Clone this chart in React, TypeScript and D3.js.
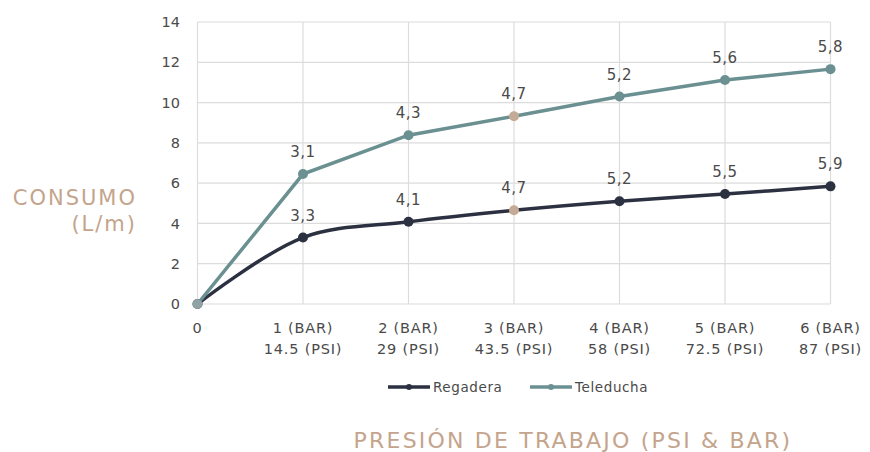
import React from "react";
import * as d3 from "d3";

const categories = ["0", "1", "2", "3", "4", "5", "6"];
const barLabels = ["", "1 (BAR)", "2 (BAR)", "3 (BAR)", "4 (BAR)", "5 (BAR)", "6 (BAR)"];
const psiLabels = ["", "14.5 (PSI)", "29 (PSI)", "43.5 (PSI)", "58 (PSI)", "72.5 (PSI)", "87 (PSI)"];
// plotted values (L/m)
const regadera = [0, 3.3, 4.08, 4.65, 5.1, 5.46, 5.84];
const teleducha = [0, 3.15, 4.3, 4.67, 5.2, 5.66, 5.82];
// data labels shown on the chart
const regaderaLabels = ["", "3,3", "4,1", "4,7", "5,2", "5,5", "5,9"];
const teleduchaLabels = ["", "3,1", "4,3", "4,7", "5,2", "5,6", "5,8"];
const yTicks = [0, 2, 4, 6, 8, 10, 12, 14];
const highlightIndex = 3;

const W = 870, H = 452;
const FONT = "'DejaVu Sans', Verdana, sans-serif";
const C_REG = "#2c3142";
const C_TEL = "#6b9092";
const C_HI = "#c5aa95";
const C_TITLE = "#c4a48c";
const C_TXT = "#4a4a4a";

export default function App() {
  const x = d3.scalePoint<string>().domain(categories).range([197.5, 830.5]);
  const y = d3.scaleLinear().domain([0, 14]).range([304, 22]);

  const regPts = regadera.map((v, i) => [x(categories[i])!, y(v)] as [number, number]);
  const telStack = teleducha.map((v, i) => v + regadera[i]);
  const telPts = telStack.map((v, i) => [x(categories[i])!, y(v)] as [number, number]);

  const regLine = d3.line().curve(d3.curveCatmullRom.alpha(0.5))(regPts)!;
  const telLine = d3.line()(telPts)!;

  return (
    <svg width={W} height={H} style={{ position: "absolute", left: 0, top: 0, background: "#fff" }}>
      {yTicks.map((t) => (
        <line key={"h" + t} x1={x("0")} x2={x("6")} y1={y(t)} y2={y(t)} stroke="#dcdcdc" strokeWidth={1.2} />
      ))}
      {categories.map((c) => (
        <line key={"v" + c} x1={x(c)} x2={x(c)} y1={y(14)} y2={y(0)} stroke="#dcdcdc" strokeWidth={1.2} />
      ))}
      {yTicks.map((t) => (
        <text key={"yt" + t} x={180} y={y(t)} dy="0.35em" textAnchor="end" fontFamily={FONT} fontSize={14.5} fill={C_TXT}>
          {t}
        </text>
      ))}
      {categories.map((c, i) => (
        <g key={"xt" + c} fontFamily={FONT} fontSize={14.5} fill={C_TXT} textAnchor="middle" letterSpacing={0.8}>
          {i === 0 ? (
            <text x={x(c)} y={333}>{c}</text>
          ) : (
            <>
              <text x={x(c)} y={333}>{barLabels[i]}</text>
              <text x={x(c)} y={354}>{psiLabels[i]}</text>
            </>
          )}
        </g>
      ))}
      <path d={regLine} fill="none" stroke={C_REG} strokeWidth={3.5} />
      <path d={telLine} fill="none" stroke={C_TEL} strokeWidth={3.5} />
      {regPts.map((p, i) => (
        <circle key={"rp" + i} cx={p[0]} cy={p[1]} r={5} fill={i === highlightIndex ? C_HI : C_REG} />
      ))}
      {telPts.map((p, i) => (
        <circle key={"tp" + i} cx={p[0]} cy={p[1]} r={5} fill={i === highlightIndex ? C_HI : i === 0 ? "#8fa3a5" : C_TEL} />
      ))}
      {regaderaLabels.map((s, i) =>
        s ? (
          <text key={"rl" + i} x={regPts[i][0]} y={regPts[i][1] - 17} textAnchor="middle" fontFamily={FONT} fontSize={15} fill={C_TXT} letterSpacing={0.5}>
            {s}
          </text>
        ) : null
      )}
      {teleduchaLabels.map((s, i) =>
        s ? (
          <text key={"tl" + i} x={telPts[i][0]} y={telPts[i][1] - 17} textAnchor="middle" fontFamily={FONT} fontSize={15} fill={C_TXT} letterSpacing={0.5}>
            {s}
          </text>
        ) : null
      )}
      <text x={137} y={205} textAnchor="end" fontFamily={FONT} fontSize={21} fill={C_TITLE} letterSpacing={2}>CONSUMO</text>
      <text x={137} y={231} textAnchor="end" fontFamily={FONT} fontSize={21} fill={C_TITLE} letterSpacing={2}>(L/m)</text>
      <g fontFamily={FONT} fontSize={13.5} fill={C_TXT}>
        <line x1={388} x2={430} y1={387} y2={387} stroke={C_REG} strokeWidth={3.5} />
        <circle cx={409} cy={387} r={3} fill={C_REG} />
        <text x={433} y={387} dy="0.35em" letterSpacing={0.6}>Regadera</text>
        <line x1={530} x2={572} y1={387} y2={387} stroke={C_TEL} strokeWidth={3.5} />
        <circle cx={551} cy={387} r={3} fill={C_TEL} />
        <text x={575} y={387} dy="0.35em" letterSpacing={0.6}>Teleducha</text>
      </g>
      <text x={573} y={448} textAnchor="middle" fontFamily={FONT} fontSize={22} fill={C_TITLE} letterSpacing={2.2}>
        PRESIÓN DE TRABAJO (PSI &amp; BAR)
      </text>
    </svg>
  );
}
